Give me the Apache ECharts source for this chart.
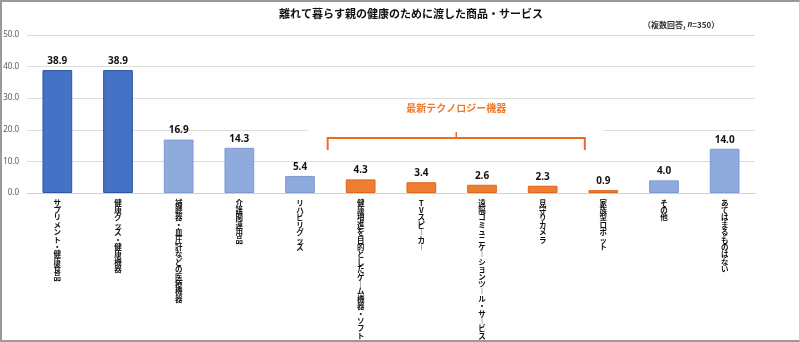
<!DOCTYPE html>
<html>
<head>
<meta charset="utf-8">
<script src="https://cdn.jsdelivr.net/npm/echarts@6/dist/echarts.min.js"></script>
<style>
  html, body { margin: 0; padding: 0; background: #fff; }
  #wrap { position: relative; width: 800px; height: 342px; box-sizing: border-box;
          border-top: 2px solid #9a9a9a; border-left: 2px solid #9a9a9a;
          border-bottom: 2px solid #9a9a9a; border-right: 1px solid #d0d0d0; }
  #chart { position: absolute; left: -2px; top: -2px; width: 800px; height: 342px; }
</style>
</head>
<body>
<div id="wrap"><div id="chart"></div></div>
<script>
// 親の健康のために渡した商品・サービス（複数回答, n=350）
const categories = [
  'サプリメント・健康食品',
  '健康グッズ・健康機器',
  '補聴器・血圧計などの医療機器',
  '介護関連用品',
  'リハビリグッズ',
  '健康増進を目的としたゲーム機器・ソフト',
  'TVスピーカー',
  '遠隔コミュニケーションツール・サービス',
  '見守りカメラ',
  '家族型ロボット',
  'その他',
  'あてはまるものはない'
];
const values = [38.9, 38.9, 16.9, 14.3, 5.4, 4.3, 3.4, 2.6, 2.3, 0.9, 4.0, 14.0];
// 0: 上位, 1: その他の項目, 2: 最新テクノロジー機器
const groups = [0, 0, 1, 1, 1, 2, 2, 2, 2, 2, 1, 1];
const yTicks = [0, 10, 20, 30, 40, 50];
const bracketTitle = '最新テクノロジー機器';

const palette = [
  { fill: '#4472C4', edge: '#2F55A8' },
  { fill: '#8FAADC', edge: '#7C9AD2' },
  { fill: '#ED7D31', edge: '#E0661C' }
];

// 縦書き表示用：長音記号を縦向きに
function verticalize(s) {
  return s.split('').map(c => c === 'ー' ? '︱' : c).join('\n');
}

const chart = echarts.init(document.getElementById('chart'), null, { renderer: 'canvas' });

const option = {
  animation: false,
  backgroundColor: 'transparent',
  title: [
    {
      text: '離れて暮らす親の健康のために渡した商品・サービス',
      left: 274, top: 3,
      textStyle: { fontSize: 11, fontWeight: 'bold', color: '#111',
                   fontFamily: 'Noto Sans CJK JP' }
    },
    {
      text: '{a|（複数回答, }{b|n}{a|=350）}',
      left: 638, top: 16,
      textStyle: {
        rich: {
          a: { fontSize: 8, color: '#333', fontFamily: 'Noto Sans CJK JP' },
          b: { fontSize: 8, color: '#333', fontStyle: 'italic', fontFamily: 'Noto Sans' }
        }
      }
    }
  ],
  grid: { left: 27, right: 45, top: 35, bottom: 149, containLabel: false },
  xAxis: {
    type: 'category',
    data: categories,
    axisTick: { show: false },
    axisLine: { lineStyle: { color: '#d0d0d0', width: 1 } },
    axisLabel: {
      interval: 0,
      margin: 6,
      fontSize: 7.5,
      lineHeight: 7.4,
      fontWeight: 'bold',
      color: '#111',
      fontFamily: 'Noto Sans CJK JP',
      verticalAlign: 'top',
      formatter: v => verticalize(v)
    }
  },
  yAxis: {
    type: 'value',
    min: 0, max: 50, interval: 10,
    axisLine: { show: false },
    axisTick: { show: false },
    splitLine: { lineStyle: { color: '#dcdcdc', width: 1 } },
    axisLabel: {
      margin: 8, fontSize: 8, color: '#595959', fontFamily: 'Noto Sans',
      formatter: v => (yTicks.indexOf(v) >= 0 ? v.toFixed(1) : '')
    }
  },
  series: [{
    type: 'bar',
    barWidth: '49%',
    z: 3,
    data: values.map((v, i) => ({
      value: v,
      itemStyle: { color: palette[groups[i]].fill, borderColor: palette[groups[i]].edge, borderWidth: 1 }
    })),
    label: {
      show: true, position: 'top', distance: 4,
      fontSize: 10, fontWeight: 'bold', color: '#111', fontFamily: 'Noto Sans',
      formatter: p => p.value.toFixed(1)
    }
  }]
};
chart.setOption(option);

// 最新テクノロジー機器の括弧（カテゴリ位置から算出）
const cx = i => chart.convertToPixel({ xAxisIndex: 0 }, categories[i]);
const cy = v => chart.convertToPixel({ yAxisIndex: 0 }, v);
const x0 = cx(5) - 33;
const x1 = cx(9) - 18.5;
const xm = (x0 + x1) / 2;
const yb = 138;
const orange = '#EE6A22';

chart.setOption({
  graphic: [
    { type: 'rect', z: 1, silent: true,
      shape: { x: cx(4) + 8, y: cy(25), width: cx(9) - cx(4) - 8, height: cy(13) - cy(25) },
      style: { fill: '#fff' } },
    { type: 'polyline', z: 10, silent: true,
      shape: { points: [[x0, yb + 12], [x0, yb], [x1, yb], [x1, yb + 12]] },
      style: { stroke: orange, lineWidth: 2, fill: null } },
    { type: 'line', z: 10, silent: true,
      shape: { x1: xm, y1: yb - 6, x2: xm, y2: yb },
      style: { stroke: orange, lineWidth: 1.5 } },
    { type: 'text', z: 10, silent: true,
      x: xm, y: 108,
      style: { text: bracketTitle, fill: '#F07A2C', fontSize: 10, fontWeight: 'bold',
               fontFamily: 'Noto Sans CJK JP', align: 'center', verticalAlign: 'middle' } }
  ]
});
</script>
</body>
</html>
